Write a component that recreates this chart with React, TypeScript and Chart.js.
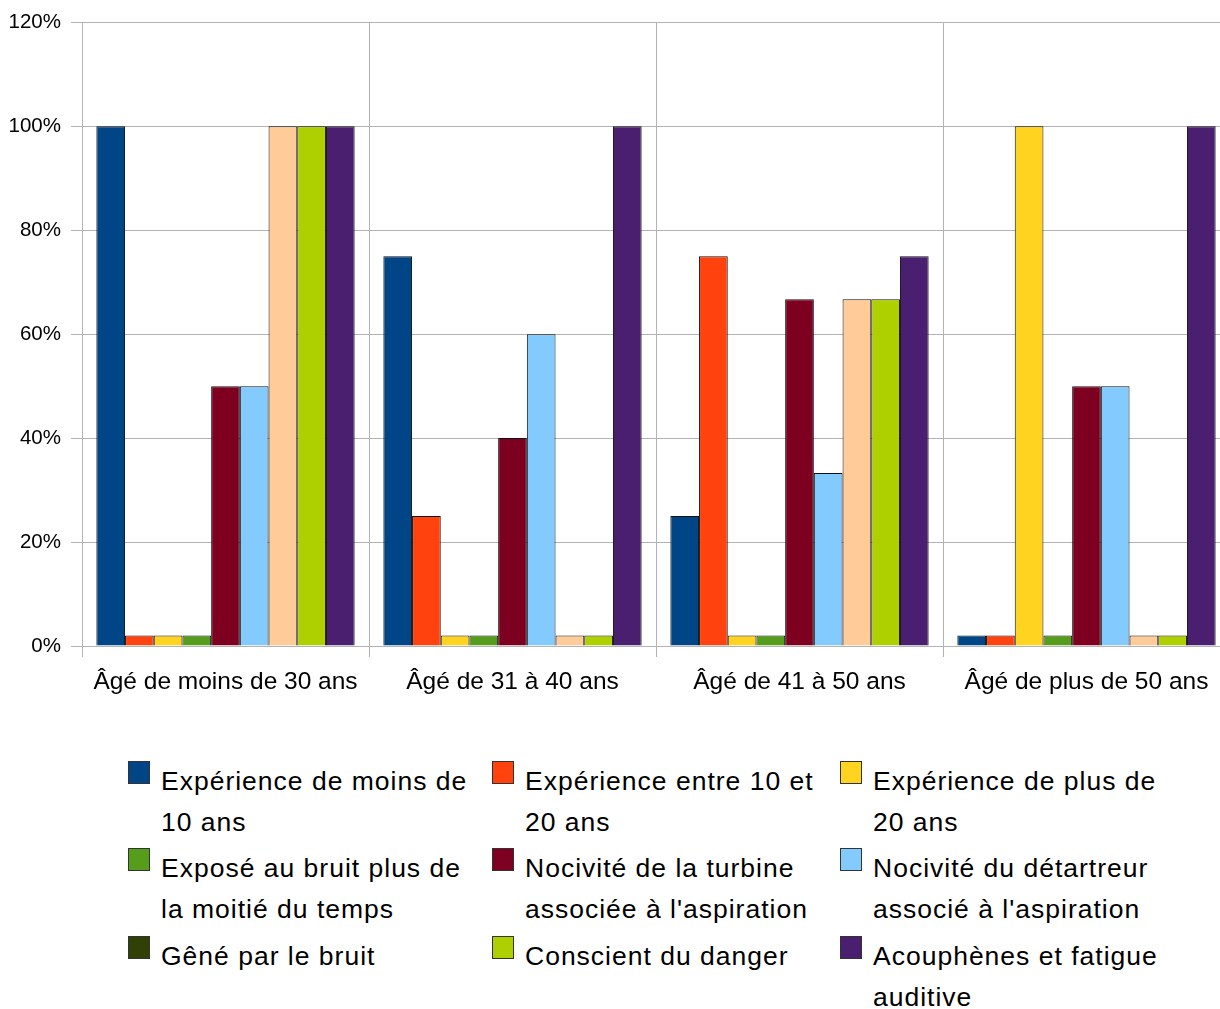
import React, { useEffect, useRef } from "react";
import { Chart, registerables } from "chart.js";

Chart.register(...registerables);

const categories = [
  "Âgé de moins de 30 ans",
  "Âgé de 31 à 40 ans",
  "Âgé de 41 à 50 ans",
  "Âgé de plus de 50 ans",
];

const seriesNames = [
  "Expérience de moins de\n10 ans",
  "Expérience entre 10 et\n20 ans",
  "Expérience de plus de\n20 ans",
  "Exposé au bruit plus de\nla moitié du temps",
  "Nocivité de la turbine\nassociée à l'aspiration",
  "Nocivité du détartreur\nassocié à l'aspiration",
  "Gêné par le bruit",
  "Conscient du danger",
  "Acouphènes et fatigue\nauditive",
];

const experienceMoins10 = [100, 75, 25, 2];
const experience10a20 = [2, 25, 75, 2];
const experiencePlus20 = [2, 2, 2, 100];
const exposeBruit = [2, 2, 2, 2];
const nociviteTurbine = [50, 40, 66.7, 50];
const nociviteDetartreur = [50, 60, 33.3, 50];
const geneBruit = [100, 2, 66.7, 2];
const conscientDanger = [100, 2, 66.7, 2];
const acouphenes = [100, 100, 75, 100];

const seriesValues = [
  experienceMoins10,
  experience10a20,
  experiencePlus20,
  exposeBruit,
  nociviteTurbine,
  nociviteDetartreur,
  geneBruit,
  conscientDanger,
  acouphenes,
];

const yMin = 0;
const yMax = 120;
const yStep = 20;

const barColors = [
  "#004586",
  "#ff420e",
  "#ffd320",
  "#579d1c",
  "#7e0021",
  "#83caff",
  "#ffcc99",
  "#aecf00",
  "#4b1f6f",
];
const legendColors = [
  "#004586",
  "#ff420e",
  "#ffd320",
  "#579d1c",
  "#7e0021",
  "#83caff",
  "#314004",
  "#aecf00",
  "#4b1f6f",
];

const FONT = "'Liberation Sans', Arial, Helvetica, sans-serif";
const legendCols = [128, 492, 840];
const legendRows = [761, 848, 936];

export default function App() {
  const canvasRef = useRef<HTMLCanvasElement | null>(null);

  useEffect(() => {
    if (!canvasRef.current) return;
    const chart = new Chart(canvasRef.current, {
      type: "bar",
      data: {
        labels: categories,
        datasets: seriesNames.map((name, i) => ({
          label: name.replace("\n", " "),
          data: seriesValues[i],
          backgroundColor: barColors[i],
          borderColor: "#111111",
          borderWidth: 1,
          categoryPercentage: 0.9,
          barPercentage: 1.0,
        })),
      },
      options: {
        responsive: false,
        animation: false,
        devicePixelRatio: 1,
        layout: { padding: { top: 22, left: 0, right: 0, bottom: 0 } },
        plugins: {
          legend: { display: false },
          tooltip: { enabled: false },
        },
        scales: {
          x: {
            grid: { color: "#b3b3b3", tickLength: 11, offset: true, lineWidth: 1 },
            border: { color: "#b3b3b3" },
            ticks: {
              color: "#000000",
              font: { family: FONT, size: 24.5 },
              padding: 11,
              maxRotation: 0,
              autoSkip: false,
            },
            afterFit: (s: any) => {
              s.height = 74;
            },
          },
          y: {
            min: yMin,
            max: yMax,
            ticks: {
              stepSize: yStep,
              color: "#000000",
              font: { family: FONT, size: 20.5 },
              padding: 10,
              callback: (v: any) => `${v}%`,
            },
            grid: { color: "#b3b3b3", tickLength: 11, lineWidth: 1 },
            border: { color: "#b3b3b3" },
            afterFit: (s: any) => {
              s.width = 82;
            },
          },
        },
      },
    });
    return () => chart.destroy();
  }, []);

  return (
    <div
      style={{
        position: "absolute",
        left: 0,
        top: 0,
        width: 1220,
        height: 1009,
        overflow: "hidden",
        background: "#ffffff",
      }}
    >
      <canvas
        ref={canvasRef}
        width={1230}
        height={720}
        style={{ position: "absolute", left: 0, top: 0, width: 1230, height: 720 }}
      />
      {seriesNames.map((name, i) => {
        const col = i % 3;
        const row = Math.floor(i / 3);
        return (
          <div
            key={i}
            style={{ position: "absolute", left: legendCols[col], top: legendRows[row] }}
          >
            <div
              style={{
                position: "absolute",
                left: 0,
                top: 0,
                width: 22,
                height: 23,
                boxSizing: "border-box",
                background: legendColors[i],
                border: "1px solid #333333",
              }}
            />
            <div
              style={{
                position: "absolute",
                left: 33,
                top: 0,
                whiteSpace: "pre",
                fontFamily: FONT,
                fontSize: 26.5,
                lineHeight: "41px",
                letterSpacing: "1px",
                color: "#000000",
              }}
            >
              {name}
            </div>
          </div>
        );
      })}
    </div>
  );
}
